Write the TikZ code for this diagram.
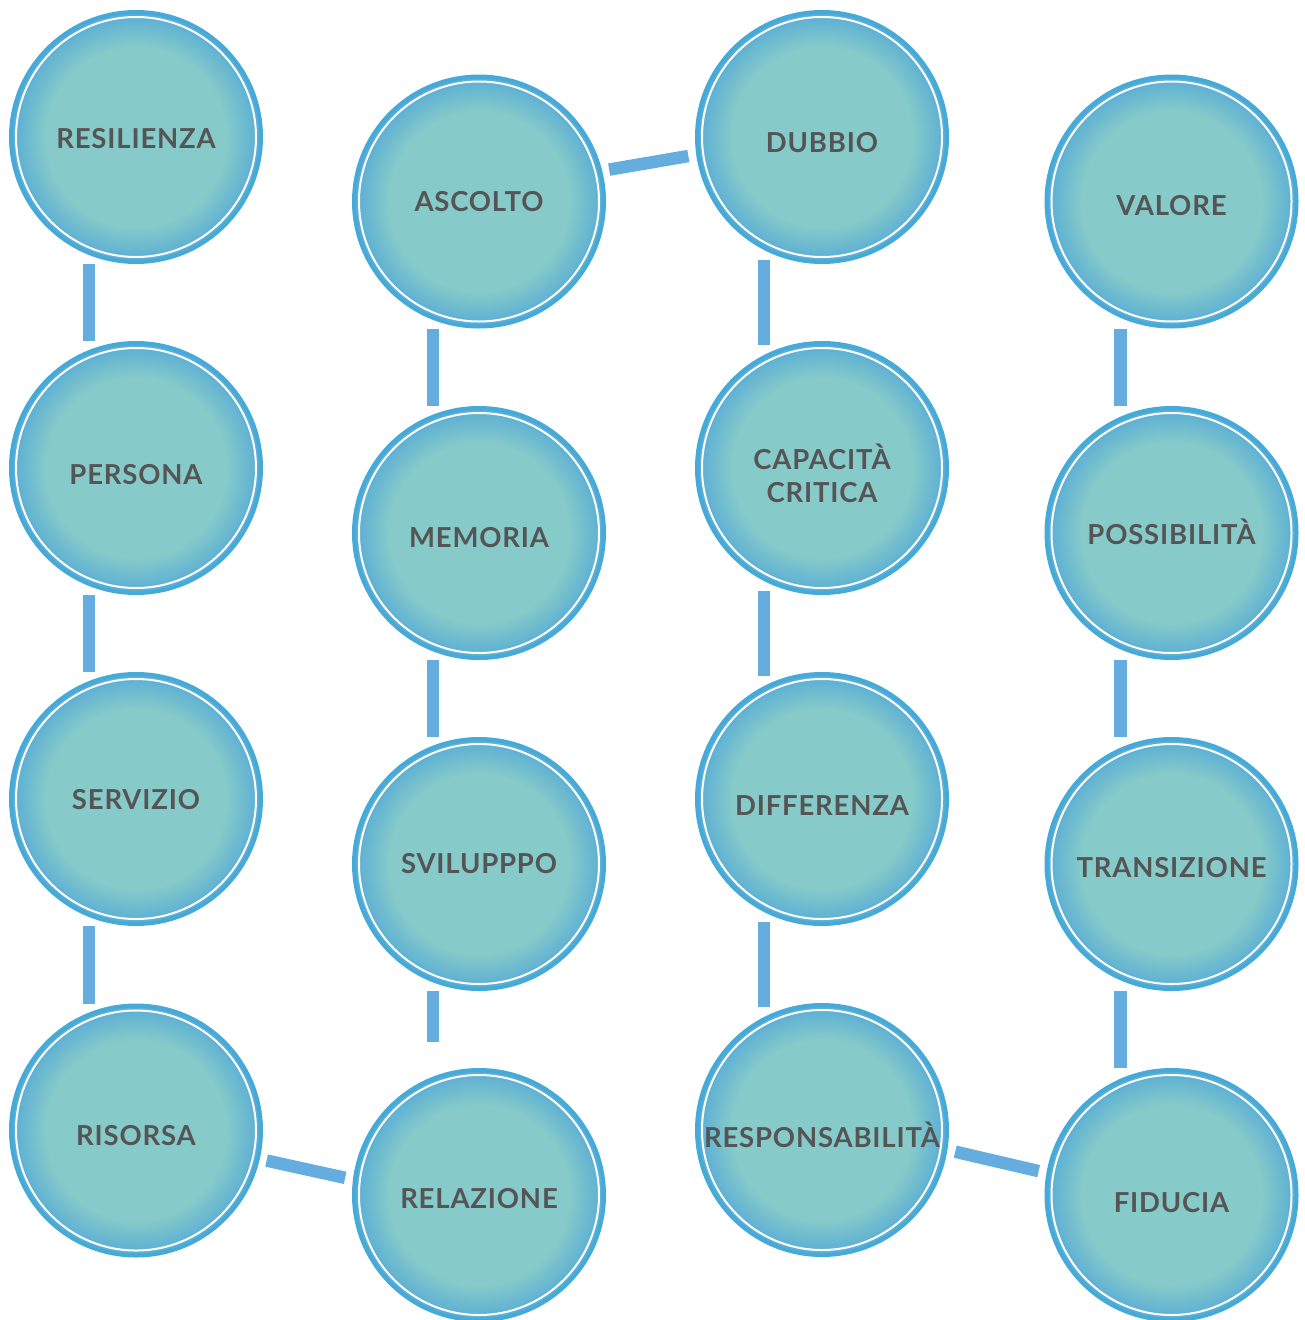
\documentclass[tikz,border=0pt]{standalone}
\usepackage{fontspec}
\setmainfont{Lato}[LetterSpace=3]
\usepackage{xcolor}
\usetikzlibrary{calc, positioning}

\definecolor{ringblue}{RGB}{70,170,216}
\definecolor{fillteal}{RGB}{134,203,201}
\definecolor{fillblue}{RGB}{88,172,214}
\definecolor{lineblue}{RGB}{101,172,223}
\definecolor{txtgray}{RGB}{85,85,85}

\pgfdeclareradialshading{bubble}{\pgfpoint{0bp}{0bp}}{%
  color(0bp)=(fillteal); color(18bp)=(fillteal);
  color(25bp)=(fillblue); color(50bp)=(fillblue)}

\tikzset{
  % bubble style
  bub/.style={
    circle, minimum size=250pt, inner sep=0pt,
    draw=ringblue, line width=4pt,
    shading=bubble,
    path picture={\draw[white, line width=2pt] (path picture bounding box.center) circle (120pt);},
    font=\bfseries\fontsize{27.5pt}{33pt}\selectfont, text=txtgray
  },
  % move the text down inside the bubble
  drop/.style={text height={(19.7+2*#1)*1pt}, text depth=0pt},
  % connector style
  conn/.style={
    line width=12.5pt, draw=lineblue
  },
}

\begin{document}
\begin{tikzpicture}[x=1pt, y=-1pt]
  \useasboundingbox (0,0) rectangle (1305,1320);

  % column 1
  \node[bub, drop=1.5] (resilienza) at (136,137)    {RESILIENZA};
  \node[bub, drop=7]   (persona)    at (136,468)    {PERSONA};
  \node[bub, drop=1]   (servizio)   at (136,799)    {SERVIZIO};
  \node[bub, drop=5.5] (risorsa)    at (136,1130.5) {RISORSA};
  % column 2
  \node[bub, drop=0]   (ascolto)    at (479,201.5)  {ASCOLTO};
  \node[bub, drop=5]   (memoria)    at (479,533)    {MEMORIA};
  \node[bub, drop=0]   (sviluppo)   at (479,864)    {SVILUPPPO};
  \node[bub, drop=4]   (relazione)  at (479,1195)   {RELAZIONE};
  % column 3
  \node[bub, drop=6]   (dubbio)     at (822,137)    {DUBBIO};
  \node[bub, align=center, text height=69pt, text depth=0pt]
                       (capacita)   at (822,468)    {CAPACITÀ\\CRITICA};
  \node[bub, drop=7]   (differenza) at (822,799)    {DIFFERENZA};
  \node[bub, drop=8]   (respons)    at (822,1130)   {RESPONSABILITÀ};
  % column 4
  \node[bub, drop=4.5] (valore)     at (1171.5,201.5) {VALORE};
  \node[bub, drop=2]   (possib)     at (1171.5,533)   {POSSIBILITÀ};
  \node[bub, drop=4]   (transiz)    at (1171.5,864)   {TRANSIZIONE};
  \node[bub, drop=7.5] (fiducia)    at (1171.5,1195)  {FIDUCIA};

  % vertical links
  \draw[conn] ([xshift=-47pt]resilienza.south) -- ([xshift=-47pt]persona.north);
  \draw[conn] ([xshift=-47pt]persona.south) -- ([xshift=-47pt]servizio.north);
  \draw[conn] ([xshift=-47pt]servizio.south) -- ([xshift=-47pt]risorsa.north);

  \draw[conn] ([xshift=-46pt]ascolto.south) -- ([xshift=-46pt]memoria.north);
  \draw[conn] ([xshift=-46pt]memoria.south) -- ([xshift=-46pt]sviluppo.north);
  \draw[conn, shorten >=26pt] ([xshift=-46pt]sviluppo.south) -- ([xshift=-46pt]relazione.north);

  \draw[conn, shorten <=-4pt, shorten >=-4pt] ([xshift=-58pt]dubbio.south) -- ([xshift=-58pt]capacita.north);
  \draw[conn, shorten <=-4pt, shorten >=-4pt] ([xshift=-58pt]capacita.south) -- ([xshift=-58pt]differenza.north);
  \draw[conn, shorten <=-4pt, shorten >=-4pt] ([xshift=-58pt]differenza.south) -- ([xshift=-58pt]respons.north);

  \draw[conn] ([xshift=-51pt]valore.south) -- ([xshift=-51pt]possib.north);
  \draw[conn] ([xshift=-51pt]possib.south) -- ([xshift=-51pt]transiz.north);
  \draw[conn] ([xshift=-51pt]transiz.south) -- ([xshift=-51pt]fiducia.north);

  % slanted links
  \draw[conn, shorten <=7pt, shorten >=8pt] (ascolto.14) -- (dubbio.188);
  \draw[conn, shorten <=7pt, shorten >=8pt] (risorsa.-13) -- (relazione.173);
  \draw[conn, shorten <=8pt, shorten >=8pt] (respons.-9) -- (fiducia.170);
\end{tikzpicture}
\end{document}
